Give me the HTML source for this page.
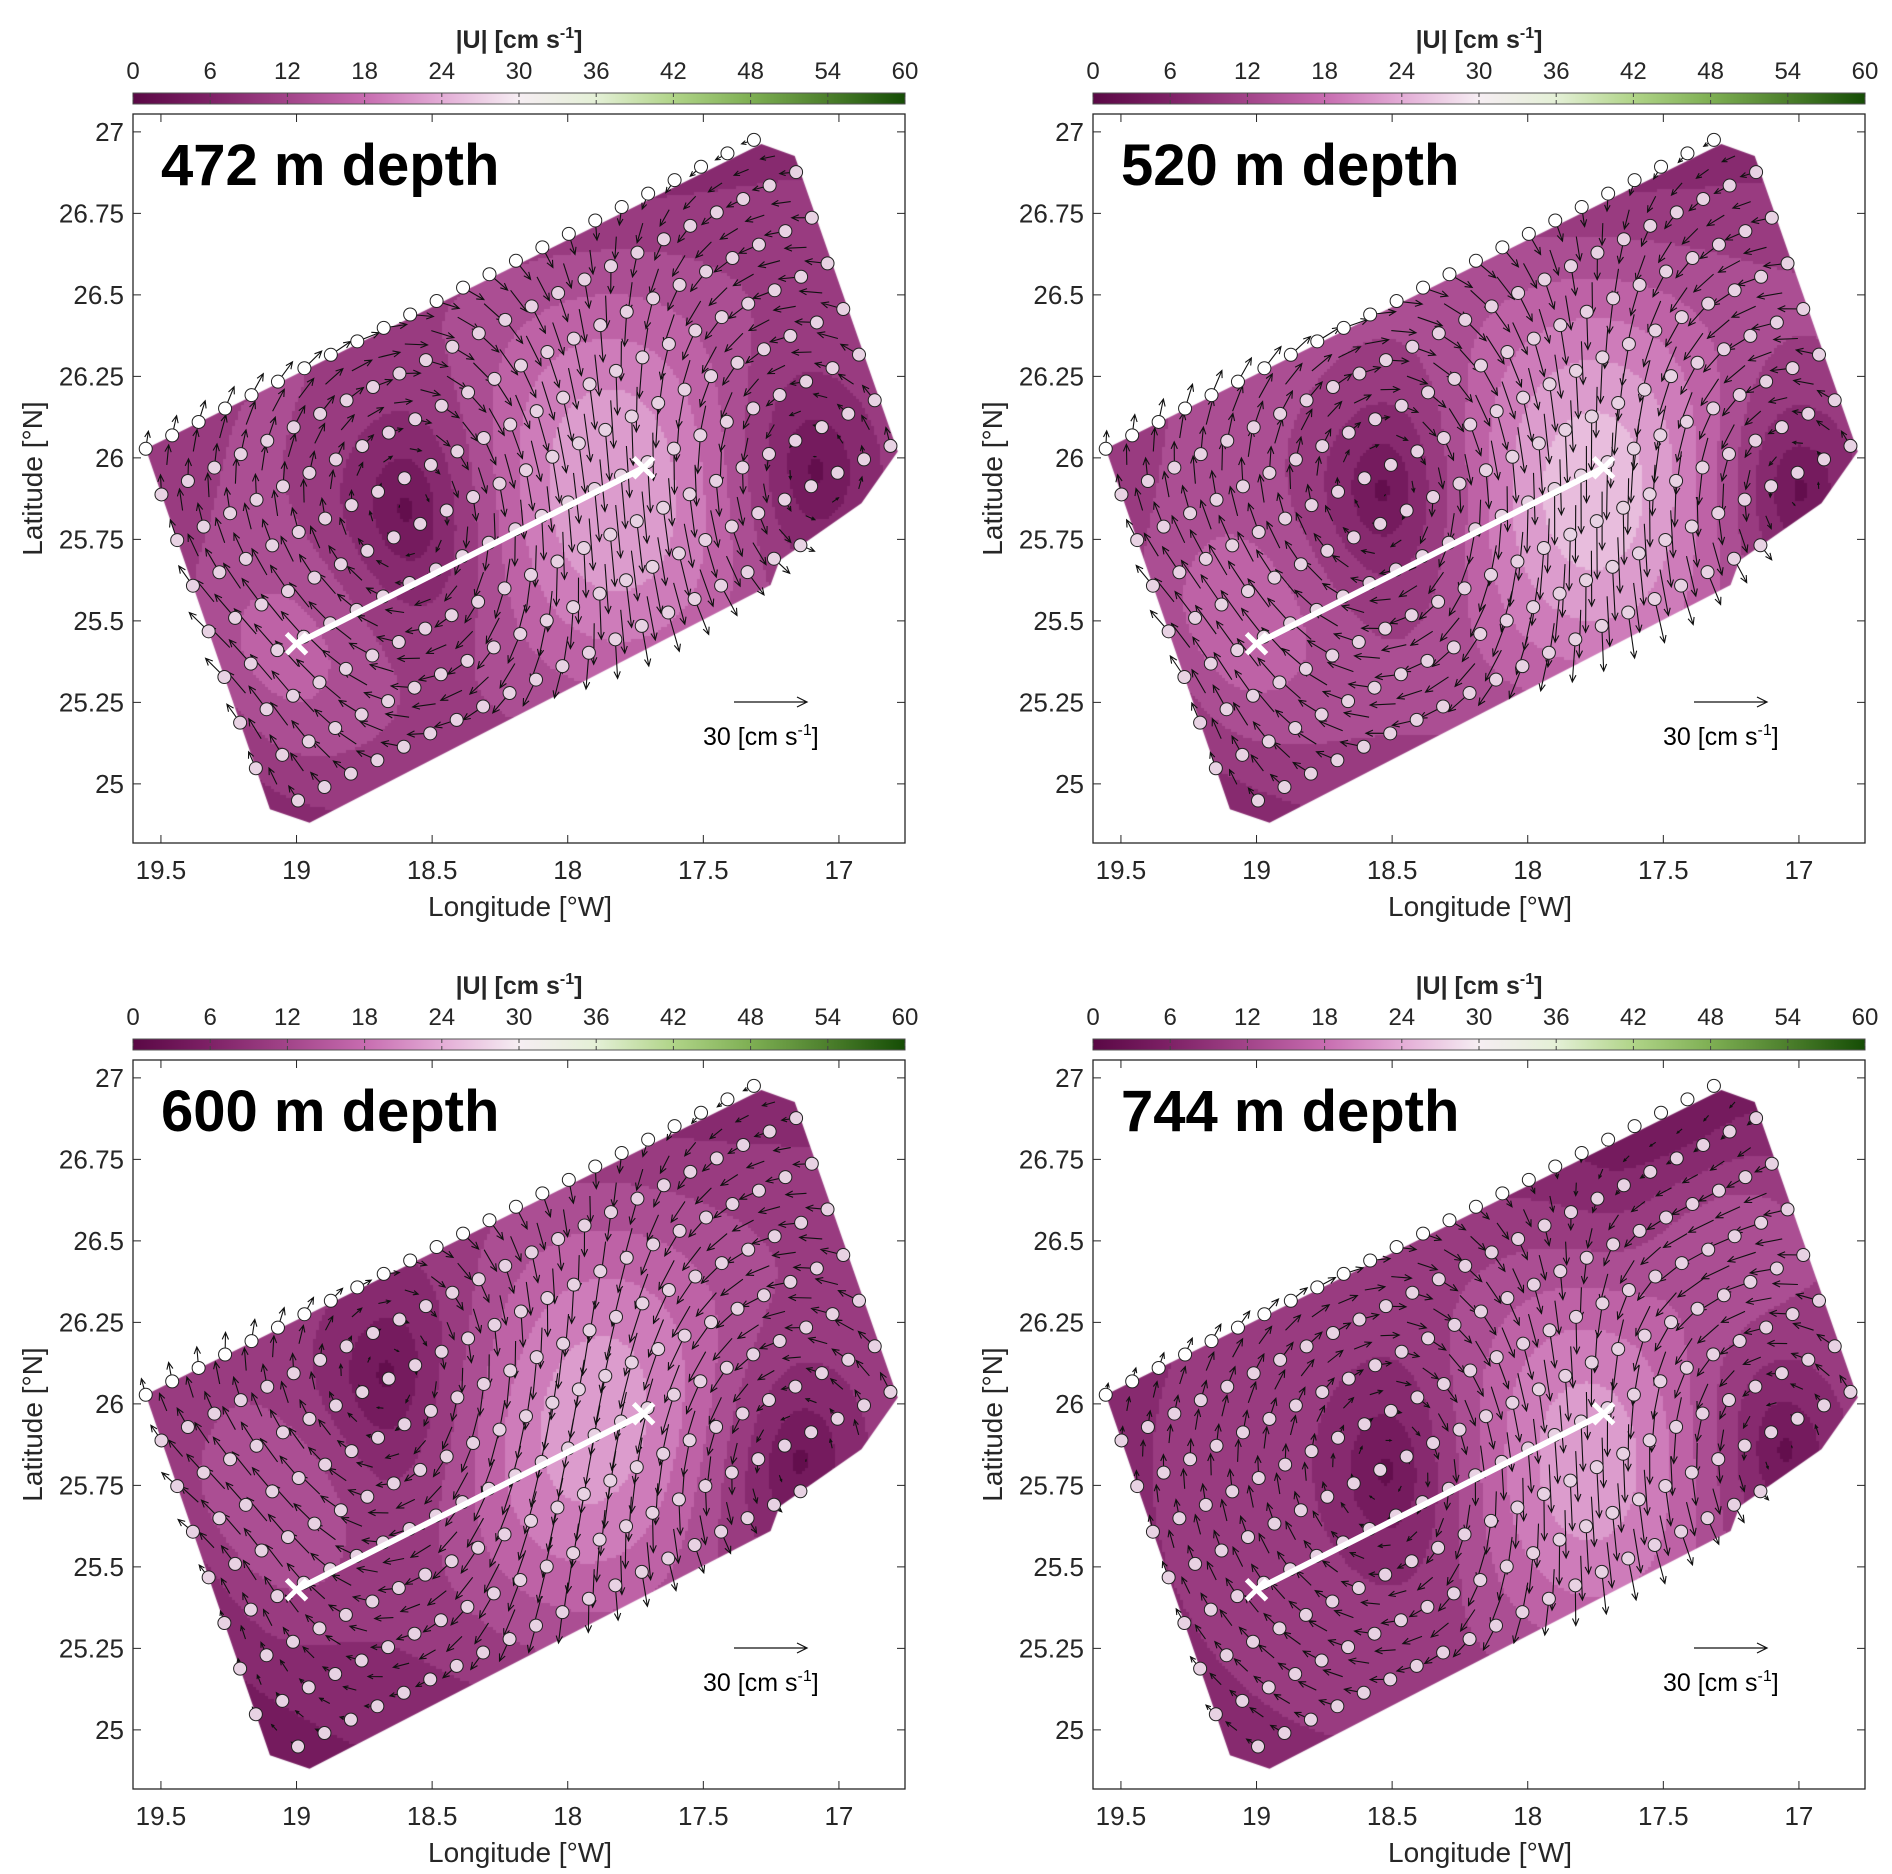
<!DOCTYPE html>
<html><head><meta charset="utf-8">
<style>
html,body{margin:0;padding:0;background:#fff;}
#wrap{position:relative;width:1892px;height:1874px;overflow:hidden;font-family:"Liberation Sans",Arial,sans-serif;}
canvas{position:absolute;}
svg{position:absolute;left:0;top:0;}
</style></head>
<body>
<div id="wrap">
<svg id="svg" width="1892" height="1874"></svg>
</div>
<script>
// ---- data ----
const depthLabels = ['472 m depth','520 m depth','600 m depth','744 m depth'];
const cbarTicks = [0,6,12,18,24,30,36,42,48,54,60];
const lonTicks = [19.5,19,18.5,18,17.5,17];
const latTicks = [25,25.25,25.5,25.75,26,26.25,26.5,26.75,27];
const lonTickLabels = ['19.5','19','18.5','18','17.5','17'];
const latTickLabels = ['25','25.25','25.5','25.75','26','26.25','26.5','26.75','27'];
const regionLon = [19.556,17.286,17.163,16.783,16.917,17.219,17.252,18.952,19.098];
const regionLat = [26.028,26.963,26.926,26.02,25.861,25.685,25.61,24.881,24.922];
const trackLon = [19.0,17.72];
const trackLat = [25.43,25.97];
// eddies per panel: position, max speed (cm/s), radius (km), sense (+1 clockwise)
const eddyLon = [[18.45,17.25,19.3],[18.4,17.15,19.35],[18.5,17.3,19.3],[18.35,17.2,17.35]];
const eddyLat = [[25.85,25.95,25.2],[25.9,25.9,25.3],[26.05,25.85,25.5],[25.8,25.85,26.7]];
const eddyV   = [[11,11,4],[12,12,4],[10,11,4],[10,11,3]];
const eddyR   = [[95,90,45],[95,90,45],[95,95,45],[90,90,35]];
const eddyS   = [[1,-1,-1],[1,-1,-1],[1,-1,-1],[1,-1,1]];
const cmapVals = [0,6,12,18,24,30,36,42,48,54,60];
const cmapCols = ['#5a0845','#7e2166','#a24489','#c76cb0','#e3acd6','#f6eef3','#e4f0d6','#b0d488','#7eaf53','#4c7f2c','#154d05'];

// ---- helpers ----
const NS='http://www.w3.org/2000/svg';
const svg=document.getElementById('svg');
const W=772,H=729;
const offX=[0,960,0,960], offY=[0,0,946,946];
function px(lon){return (19.603-lon)*271.2;}
function py(lat){return (27.055-lat)*326;}
function hex(c){return [parseInt(c.substr(1,2),16),parseInt(c.substr(3,2),16),parseInt(c.substr(5,2),16)];}
function cmap(v){
  v=Math.max(0,Math.min(60,v));
  for(let k=0;k<cmapVals.length-1;k++){
    if(v<=cmapVals[k+1]){const t=(v-cmapVals[k])/(cmapVals[k+1]-cmapVals[k]);
      const a=hex(cmapCols[k]),b=hex(cmapCols[k+1]);
      return 'rgb('+a.map((x,i)=>Math.round(x+(b[i]-x)*t)).join(',')+')';}
  }
  return cmapCols[cmapCols.length-1];
}
function vel(p,lon,lat){
  let u=0,v=0;
  for(let k=0;k<eddyLon[p].length;k++){
    const dx=-(lon-eddyLon[p][k])*99.8, dy=(lat-eddyLat[p][k])*111;
    const R=eddyR[p][k];
    const e=Math.exp(-(dx*dx+dy*dy)/(R*R));
    const A=eddyS[p][k]*eddyV[p][k]*R/0.858;
    u+= A*2*dy/(R*R)*e;
    v+= -A*2*dx/(R*R)*e;
  }
  return [u,v];
}
function inside(lon,lat){
  let c=false;const n=regionLon.length;
  for(let i=0,j=n-1;i<n;j=i++){
    const xi=px(regionLon[i]),yi=py(regionLat[i]),xj=px(regionLon[j]),yj=py(regionLat[j]);
    const x=px(lon),y=py(lat);
    if(((yi>y)!=(yj>y))&&(x<(xj-xi)*(y-yi)/(yj-yi)+xi))c=!c;
  }
  return c;
}
function mk(tag,attrs,parent){const e=document.createElementNS(NS,tag);for(const k in attrs)e.setAttribute(k,attrs[k]);(parent||svg).appendChild(e);return e;}
function txt(s,x,y,size,anchor,weight,parent){const t=mk('text',{x:x,y:y,'font-size':size,'text-anchor':anchor||'middle','font-weight':weight||'normal',fill:weight==='bold'?'#000':'#262626','font-family':'"Liberation Sans",Arial,sans-serif'},parent);t.textContent=s;return t;}

const defs=mk('defs',{});
const grad=mk('linearGradient',{id:'cb',x1:'0',x2:'1',y1:'0',y2:'0'},defs);
cmapVals.forEach((v,k)=>mk('stop',{offset:v/60,'stop-color':cmapCols[k]},grad));

const DI=0.0975, DLI=0.0412, DJ=0.058, DLJ=0.14;

for(let p=0;p<4;p++){
  const L=133+offX[p],T=114+offY[p];
  const cv=document.createElement('canvas');
  cv.width=W;cv.height=H;cv.style.left=L+'px';cv.style.top=T+'px';
  
  
  document.getElementById('wrap').insertBefore(cv,svg);
  const ctx=cv.getContext('2d');
  ctx.beginPath();
  regionLon.forEach((lo,k)=>{const x=px(lo),y=py(regionLat[k]);k?ctx.lineTo(x,y):ctx.moveTo(x,y);});
  ctx.closePath();ctx.save();ctx.clip();
  const st=3;
  for(let y=0;y<H;y+=st)for(let x=0;x<W;x+=st){
    const lon=19.603-(x+st/2)/271.2,lat=27.055-(y+st/2)/326;
    const uv=vel(p,lon,lat);const s=Math.hypot(uv[0],uv[1])+2;
    const lev=Math.floor(s/3)*3+1.5;
    ctx.fillStyle=cmap(lev);ctx.fillRect(x,y,st,st);
  }
  ctx.restore();

  const g=mk('g',{transform:'translate('+L+','+T+')'});
  
  
  // arrows
  let ad='';
  for(let i=0;i<=48;i++)for(let j=0;j<=16;j++){
    if((i+j)%2)continue;
    const lon=19.556-DI*i/2-DJ*j/2, lat=26.028+DLI*i/2-DLJ*j/2;
    if(!inside(lon,lat)&&j>0)continue;
    if(j===0&&(i%2||lon<17.25))continue;
    const uv=vel(p,lon,lat);const s=Math.hypot(uv[0],uv[1]);
    if(s<0.5)continue;
    const x0=px(lon),y0=py(lat);const dx=uv[0]*2.43,dy=-uv[1]*2.43;
    const x1=x0+dx,y1=y0+dy;const len=Math.hypot(dx,dy);const h=Math.min(7,len*0.35);
    const ux=dx/len,uy=dy/len;
    ad+=`M${x0.toFixed(1)},${y0.toFixed(1)}L${x1.toFixed(1)},${y1.toFixed(1)}M${(x1-h*ux-h*0.45*uy).toFixed(1)},${(y1-h*uy+h*0.45*ux).toFixed(1)}L${x1.toFixed(1)},${y1.toFixed(1)}L${(x1-h*ux+h*0.45*uy).toFixed(1)},${(y1-h*uy-h*0.45*ux).toFixed(1)}`;
  }
  const ar=mk('path',{d:ad,stroke:'#111',fill:'none','stroke-width':1.1},g);
  
  
  // stations
  for(let i=0;i<=24;i++)for(let j=0;j<=8;j++){
    const lon=19.556-DI*i-DJ*j, lat=26.028+DLI*i-DLJ*j;
    if(j>0&&!inside(lon,lat))continue;
    if(j===0&&lon<17.25)continue;
    const c=mk('circle',{cx:px(lon),cy:py(lat),r:6.5,fill:j===0?'#fff':'#e8d2e3',stroke:'#222','stroke-width':1},g);
    
    
  }
  // track line
  const tr=mk('line',{x1:px(trackLon[0]),y1:py(trackLat[0]),x2:px(trackLon[1]),y2:py(trackLat[1]),stroke:'#fff','stroke-width':6},g);
  
  
  for(let k=0;k<2;k++){
    const cx=px(trackLon[k]),cy=py(trackLat[k]);
    const xm=mk('path',{d:`M${cx-10},${cy-10}L${cx+10},${cy+10}M${cx-10},${cy+10}L${cx+10},${cy-10}`,stroke:'#fff','stroke-width':5},g);
    
    
  }
  const fr=mk('rect',{x:0,y:0,width:W,height:H,fill:'none',stroke:'#262626','stroke-width':1.3},g);
  
  
  lonTicks.forEach((lo,k)=>{const x=px(lo);
    mk('path',{d:`M${x},0v8M${x},${H}v-8`,stroke:'#262626'},g);
    const t=txt(lonTickLabels[k],x,H+36,26,'middle','normal',g);
    
    
  });
  latTicks.forEach((la,k)=>{const y=py(la);
    mk('path',{d:`M0,${y}h8M${W},${y}h-8`,stroke:'#262626'},g);
    const t=txt(latTickLabels[k],-9,y+9,26,'end','normal',g);
    
    
  });
  const xl=txt('Longitude [°W]',387,H+73,28,'middle','normal',g);
  
  
  const yl=txt('Latitude [°N]',0,0,28,'middle','normal',g);
  yl.setAttribute('transform',`translate(-91,${H/2}) rotate(-90)`);
  
  
  const dl=txt(depthLabels[p],28,71,58,'start','bold',g);
  
  
  const ra=mk('path',{d:'M601,588h73M664,583l10,5l-10,5',stroke:'#111',fill:'none','stroke-width':1.2},g);
  
  
  const rt=mk('text',{x:570,y:631,'font-size':25,fill:'#000','font-family':'"Liberation Sans",Arial,sans-serif'},g);
  rt.innerHTML='30 [cm s<tspan dy="-10" font-size="16">-1</tspan><tspan dy="10">]</tspan>';
  
  
  const cb=mk('g',{transform:`translate(0,-21)`},g);
  const cr=mk('rect',{x:0,y:0,width:W,height:11,fill:'url(#cb)',stroke:'#555','stroke-width':1},cb);
  
  
  cbarTicks.forEach(v=>{const x=v/60*W;
    mk('path',{d:`M${x},0v4M${x},11v-4`,stroke:'#444'},cb);
    const t=txt(String(v),x,-14,24,'middle','normal',cb);
    
    
  });
  const ct=mk('text',{x:W/2,y:-45,'font-size':25,'font-weight':'bold','text-anchor':'middle',fill:'#262626','font-family':'"Liberation Sans",Arial,sans-serif'},cb);
  ct.innerHTML='|U| [cm s<tspan dy="-10" font-size="16">-1</tspan><tspan dy="10">]</tspan>';
  
  
}
</script>
</body></html>
